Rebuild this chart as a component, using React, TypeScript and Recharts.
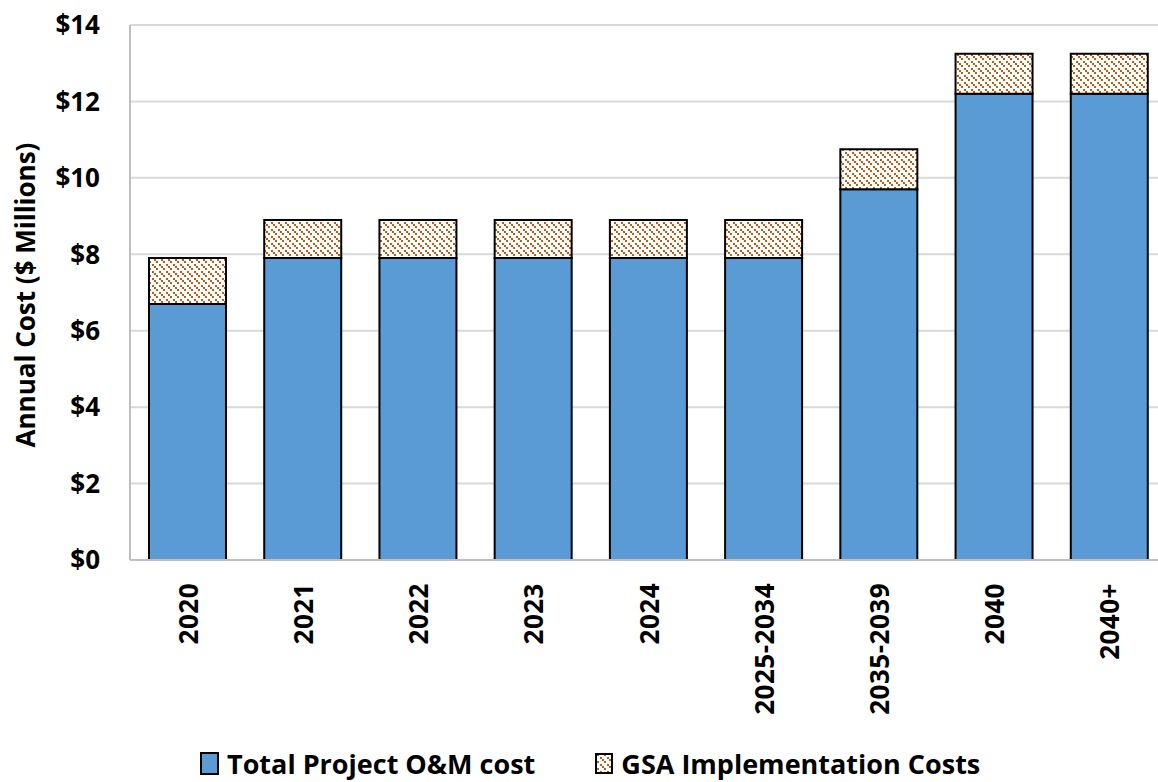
import React from "react";
import {
  BarChart,
  Bar,
  XAxis,
  YAxis,
  CartesianGrid,
  Legend,
} from "recharts";

const CATEGORIES = ["2020", "2021", "2022", "2023", "2024", "2025-2034", "2035-2039", "2040", "2040+"];
const OM_COST = [6.7, 7.9, 7.9, 7.9, 7.9, 7.9, 9.7, 12.2, 12.2];
const GSA_COST = [1.2, 1.0, 1.0, 1.0, 1.0, 1.0, 1.05, 1.05, 1.05];
const Y_TICKS = [0, 2, 4, 6, 8, 10, 12, 14];

const FONT = "'Open Sans', sans-serif";
const BLUE = "#5B9BD5";
const ORANGE = "#C55A11";

const data = CATEGORIES.map((c, i) => ({ name: c, om: OM_COST[i], gsa: GSA_COST[i] }));

const XTick = (props: any) => {
  const { x, y, payload } = props;
  return (
    <text
      x={x + 10}
      y={y + 15}
      transform={`rotate(-90 ${x + 10} ${y + 15})`}
      textAnchor="end"
      fontFamily={FONT}
      fontWeight={700}
      fontSize={26}
      letterSpacing={0.5}
      fill="#000"
    >
      {payload.value}
    </text>
  );
};

// dotted "\" diagonal hatch
const HatchDefs = ({ id }: { id: string }) => (
  <defs>
    <pattern id={id} patternUnits="userSpaceOnUse" width={7} height={7}>
      <rect x={0} y={0} width={7} height={7} fill="#fff" />
      <g fill={ORANGE} shapeRendering="crispEdges">
        <rect x={0} y={0} width={2} height={2} />
        <rect x={2.33} y={2.33} width={2} height={2} />
        <rect x={4.67} y={4.67} width={2} height={2} />
      </g>
    </pattern>
  </defs>
);

const LegendContent = () => (
  <div
    style={{
      display: "flex",
      alignItems: "center",
      fontFamily: FONT,
      fontWeight: 700,
      fontSize: 27,
      color: "#000",
      whiteSpace: "nowrap",
    }}
  >
    <span style={{ display: "inline-block", width: 15, height: 19, background: BLUE, border: "2px solid #000", marginRight: 8 }} />
    <span style={{ marginRight: 60 }}>Total Project O&amp;M cost</span>
    <svg width={20} height={24} style={{ marginRight: 6 }}>
      <HatchDefs id="hatchLegend" />
      <rect x={1} y={2} width={16} height={19} fill="url(#hatchLegend)" stroke="#000" strokeWidth={2} />
    </svg>
    <span>GSA Implementation Costs</span>
  </div>
);

export default function App() {
  return (
    <div style={{ position: "absolute", left: 0, top: 0, width: 1158, height: 782, overflow: "hidden", background: "#fff" }}>
      <BarChart
        width={1167}
        height={782}
        data={data}
        margin={{ top: 25, right: 0, bottom: 0, left: 0 }}
        barSize={77}
      >
        <HatchDefs id="hatchBar" />
        <CartesianGrid vertical={false} stroke="#d9d9d9" strokeWidth={2} />
        <XAxis
          dataKey="name"
          height={222}
          interval={0}
          tickLine={false}
          axisLine={{ stroke: "#bfbfbf", strokeWidth: 2 }}
          tick={<XTick />}
        />
        <YAxis
          width={130}
          domain={[0, 14]}
          ticks={Y_TICKS}
          tickLine={false}
          tickSize={0}
          tickMargin={30}
          axisLine={{ stroke: "#bfbfbf", strokeWidth: 2 }}
          tickFormatter={(v) => `$${v}`}
          tick={{ fontFamily: FONT, fontWeight: 700, fontSize: 26, fill: "#000" }}
          label={{
            content: () => (
              <text
                x={35}
                y={295}
                transform="rotate(-90 35 295)"
                textAnchor="middle"
                fontFamily={FONT}
                fontWeight={700}
                fontSize={26}
                fill="#000"
              >
                Annual Cost ($ Millions)
              </text>
            ),
          }}
        />
        <Legend
          layout="horizontal"
          verticalAlign="middle"
          content={<LegendContent />}
          wrapperStyle={{ position: "absolute", top: 745, left: 200, width: 950 }}
        />
        <Bar dataKey="om" stackId="a" fill={BLUE} stroke="#000" strokeWidth={2} isAnimationActive={false} />
        <Bar dataKey="gsa" stackId="a" fill="url(#hatchBar)" stroke="#000" strokeWidth={2} isAnimationActive={false} />
      </BarChart>
    </div>
  );
}
